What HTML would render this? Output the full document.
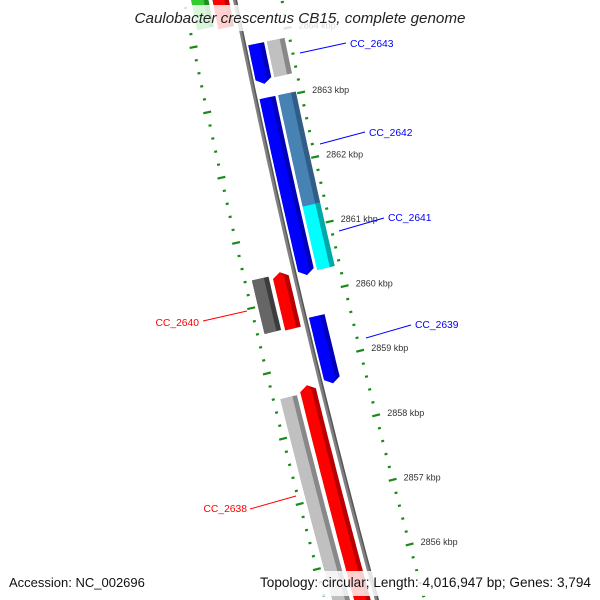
<!DOCTYPE html>
<html><head><meta charset="utf-8"><style>
html,body{margin:0;padding:0;background:#fff;overflow:hidden;}
svg{display:block;font-family:"Liberation Sans","DejaVu Sans",sans-serif;overflow:hidden;}
</style></head><body>
<svg id="map" width="600" height="600" viewBox="0 0 600 600" xmlns="http://www.w3.org/2000/svg">
<g id="rings"></g>
<g id="backbone"></g>
<g id="genes"></g>
<g id="ticklabels"></g>
<g font-size="10.3">
<line x1="300" y1="53" x2="346" y2="43" stroke="#0000ff" stroke-width="1"/>
<text x="350" y="47" fill="#0000ff">CC_2643</text>
<line x1="320" y1="144" x2="365" y2="132" stroke="#0000ff" stroke-width="1"/>
<text x="369" y="136" fill="#0000ff">CC_2642</text>
<line x1="339" y1="231" x2="384" y2="218" stroke="#0000ff" stroke-width="1"/>
<text x="388" y="221" fill="#0000ff">CC_2641</text>
<line x1="366" y1="338" x2="411" y2="325" stroke="#0000ff" stroke-width="1"/>
<text x="415" y="328" fill="#0000ff">CC_2639</text>
<line x1="203" y1="321" x2="247" y2="311" stroke="#ff0000" stroke-width="1"/>
<text x="199" y="326" text-anchor="end" fill="#ff0000">CC_2640</text>
<line x1="250" y1="509" x2="296" y2="496" stroke="#ff0000" stroke-width="1"/>
<text x="247" y="512" text-anchor="end" fill="#ff0000">CC_2638</text>
</g>
<rect x="0" y="5" width="600" height="26" fill="#fff" fill-opacity="0.82"/>
<text x="300" y="23" text-anchor="middle" font-size="15.2" font-style="italic" fill="#222">Caulobacter crescentus CB15, complete genome</text>
<rect x="0" y="571" width="600" height="25" fill="#fff" fill-opacity="0.82"/>
<text x="9" y="587" font-size="13" fill="#111">Accession: NC_002696</text>
<text x="591" y="587" text-anchor="end" font-size="13.6" fill="#111">Topology: circular; Length: 4,016,947 bp; Genes: 3,794</text>
</svg>
<script>
const tickKbp=[2865,2864,2863,2862,2861,2860,2859,2858,2857,2856,2855];
const labelKbp=[2864,2863,2862,2861,2860,2859,2858,2857,2856];
const geneNames=["cc2643","cc2643-partner","cc2642","cc2642-partner","cc2641","cc2641-partner","cc2639","top-red","cc2640","cc2638","top-green","cc2640-partner","cc2638-partner","bottom-red2","bottom-gray2"];
const geneStart=[2863.86,2863.86,2863.03,2863.03,2861.34,2861.31,2859.66,2864.9,2860.35,2858.61,2864.9,2860.40,2858.58,2854.6,2854.6];
const geneEnd=[2863.32,2863.31,2861.32,2861.31,2860.37,2860.33,2858.70,2864.19,2859.56,2854.7,2864.24,2859.58,2854.7,2854.0,2854.0];
const geneTrack=[0,1,0,1,0,1,0,2,2,2,3,3,3,2,3];
const geneColor=["#0000ff","#c0c0c0","#0000ff","#4682b4","#0000ff","#00ffff","#0000ff","#ff0000","#ff0000","#ff0000","#33cc33","#666666","#c0c0c0","#ff0000","#666666"];
const geneDir=["down","none","down","none","down","none","down","up","up","up","none","none","none","none","none"];

const NS="http://www.w3.org/2000/svg";
const S=64.9,Y0=102,K0=2863;
const trackLo=[4,23,-22,-43],trackHi=[20,41,-6,-26];
function yOf(k){return Y0+(K0-k)*S;}
function bx(y){return 235+0.2012*y+5.9e-5*y*y;}
function slope(y){return 0.2012+2*5.9e-5*y;}
function pt(y,n){const s=slope(y),L=Math.hypot(1,s);return [bx(y)+n/L,y-n*s/L];}
function poly(pts){return pts.map(p=>p[0].toFixed(1)+","+p[1].toFixed(1)).join(" ");}
function shade(c){
  const m={"#0000ff":"#0000b8","#c0c0c0":"#888888","#4682b4":"#2f5d85","#00ffff":"#00a8a8","#ff0000":"#b80000","#33cc33":"#1f8f1f","#666666":"#3c3c3c"};
  return m[c]||c;
}
const bb=document.getElementById("backbone");
for(const [n1,n2,col,nm] of [[-2,2,"#808080","backbone-line"],[0.6,2,"#555","backbone-edge"]]){
  const a=[],b=[];
  for(let y=-20;y<=620;y+=10){a.push(pt(y,n1));b.unshift(pt(y,n2));}
  const p=document.createElementNS(NS,"polygon");
  
  
  p.setAttribute("points",poly(a.concat(b)));p.setAttribute("fill",col);bb.appendChild(p);
}
const gg=document.getElementById("genes");
for(let i=0;i<geneNames.length;i++){
  const y1=yOf(geneStart[i]),y2=yOf(geneEnd[i]);
  const lo=trackLo[geneTrack[i]],hi=trackHi[geneTrack[i]];
  const a=[],b=[];
  const steps=Math.max(2,Math.ceil((y2-y1)/8));
  for(let j=0;j<=steps;j++){const y=y1+(y2-y1)*j/steps;a.push(pt(y,lo));b.unshift(pt(y,hi));}
  const mid=(lo+hi)/2;
  let shape;
  if(geneDir[i]==="down"){shape=a.concat([pt(y2+5,mid)],b);}
  else if(geneDir[i]==="up"){shape=[pt(y1-5,mid)].concat(a,b);}
  else shape=a.concat(b);
  const g=document.createElementNS(NS,"g");
  
  
  const p=document.createElementNS(NS,"polygon");
  
  
  p.setAttribute("points",poly(shape));p.setAttribute("fill",shade(geneColor[i]));
  g.appendChild(p);
  const lhi=lo+(hi-lo)*0.72;
  const d=[],e=[];
  for(let j=0;j<=steps;j++){const y=y1+(y2-y1)*j/steps;d.push(pt(y,lo));e.unshift(pt(y,lhi));}
  let s2;
  if(geneDir[i]==="down")s2=d.concat([pt(y2+5,mid)],e);
  else if(geneDir[i]==="up")s2=[pt(y1-5,mid)].concat(d,e);
  else s2=d.concat(e);
  const q=document.createElementNS(NS,"polygon");
  
  
  q.setAttribute("points",poly(s2));q.setAttribute("fill",geneColor[i]);
  g.appendChild(q);
  gg.appendChild(g);
}
const rg=document.getElementById("rings");
function tick(k,n,len,nm){
  const y=yOf(k);const p1=pt(y,n-len/2),p2=pt(y,n+len/2);
  const l=document.createElementNS(NS,"line");
  
  
  l.setAttribute("x1",p1[0]);l.setAttribute("y1",p1[1]);l.setAttribute("x2",p2[0]);l.setAttribute("y2",p2[1]);
  l.setAttribute("stroke","#1a8a1a");l.setAttribute("stroke-width","2.2");
  rg.appendChild(l);
}
for(let t=0;t<tickKbp.length-1;t++){
  const k=tickKbp[t];
  tick(k,46,8,"major-tick-outer");tick(k,-50,8,"major-tick-inner");
  for(let m=1;m<5;m++){
    const km=k-m*0.2;
    tick(km,46,3,"minor-tick-outer");tick(km,-50,3,"minor-tick-inner");
  }
}
tick(tickKbp[tickKbp.length-1],46,8,"major-tick-outer");tick(tickKbp[tickKbp.length-1],-50,8,"major-tick-inner");
const tl=document.getElementById("ticklabels");
for(const k of labelKbp){
  const p=pt(yOf(k),46);
  const t=document.createElementNS(NS,"text");
  
  
  t.setAttribute("x",(p[0]+11).toFixed(1));t.setAttribute("y",(p[1]+0.5).toFixed(1));
  t.setAttribute("font-size","9");t.setAttribute("fill","#333");
  t.textContent=k+" kbp";tl.appendChild(t);
}
</script>
</body></html>
